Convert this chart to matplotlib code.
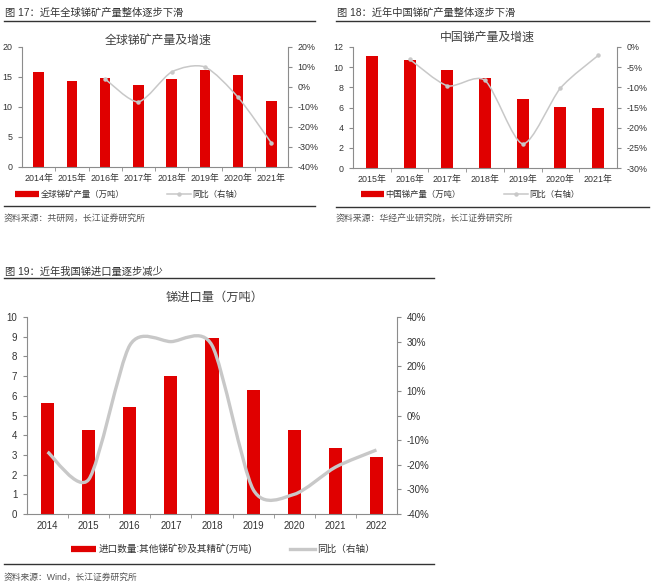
import matplotlib.pyplot as plt
from matplotlib.lines import Line2D
from matplotlib.patches import PathPatch
from matplotlib.path import Path
from matplotlib.ticker import FuncFormatter, MultipleLocator

plt.rcParams["font.family"] = ["Liberation Sans", "Noto Sans CJK SC", "DejaVu Sans"]

W, H = 660, 587
RED = "#E00000"
GRAY_LINE = "#C8C8C8"
AXIS_GRAY = "#8C8C8C"
TEXT = "#333333"
SMOOTH = 0.13  # bezier handle length, a bit tighter than plain Catmull-Rom

# figure 17: global antimony mine output
GLOBAL_YEARS = ["2014年", "2015年", "2016年", "2017年", "2018年", "2019年", "2020年", "2021年"]
GLOBAL_OUTPUT = [15.8, 14.3, 14.8, 13.7, 14.7, 16.2, 15.3, 11.0]
GLOBAL_YOY = [None, None, 4.0, -7.4, 7.5, 10.0, -5.2, -28.0]

# figure 18: China antimony output
CHINA_YEARS = ["2015年", "2016年", "2017年", "2018年", "2019年", "2020年", "2021年"]
CHINA_OUTPUT = [11.1, 10.74, 9.75, 8.93, 6.8, 6.08, 5.95]
CHINA_YOY = [None, -3.0, -9.6, -8.3, -24.0, -10.2, -2.1]

# figure 19: antimony ore imports
IMPORT_YEARS = ["2014", "2015", "2016", "2017", "2018", "2019", "2020", "2021", "2022"]
IMPORT_QTY = [5.65, 4.27, 5.41, 7.03, 8.95, 6.27, 4.28, 3.37, 2.9]
IMPORT_YOY = [-14.8, -26.0, 28.5, 30.0, 28.5, -30.0, -32.0, -21.0, -14.0]


def px_axes(fig, x0, y0, x1, y1):
    return fig.add_axes([x0 / W, 1 - y1 / H, (x1 - x0) / W, (y1 - y0) / H])


def fig_text(fig, x, y, s, **kw):
    fig.text(x / W, 1 - y / H, s, va="center", **kw)


def fig_hline(fig, x0, x1, y, lw=1.0, color="#333333"):
    fig.add_artist(Line2D([x0 / W, x1 / W], [1 - y / H, 1 - y / H],
                          transform=fig.transFigure, color=color, lw=lw))


def smooth_path(xs, ys):
    # Catmull-Rom style bezier, like Excel's smoothed line
    pts = list(zip(xs, ys))
    verts = [pts[0]]
    codes = [Path.MOVETO]
    for i in range(len(pts) - 1):
        p0 = pts[max(i - 1, 0)]
        p1 = pts[i]
        p2 = pts[i + 1]
        p3 = pts[min(i + 2, len(pts) - 1)]
        c1 = (p1[0] + (p2[0] - p0[0]) * SMOOTH, p1[1] + (p2[1] - p0[1]) * SMOOTH)
        c2 = (p2[0] - (p3[0] - p1[0]) * SMOOTH, p2[1] - (p3[1] - p1[1]) * SMOOTH)
        verts += [c1, c2, p2]
        codes += [Path.CURVE4] * 3
    return Path(verts, codes)


def draw_panel(fig, box, labels, values, yoy, ylim, ystep, y2lim, y2step,
               tick_size, line_width, markers):
    ax = px_axes(fig, *box)
    xs = list(range(len(labels)))
    ax.bar(xs, values, width=0.32, color=RED, zorder=2)
    ax.set_xlim(-0.5, len(labels) - 0.5)
    ax.set_ylim(*ylim)
    ax.yaxis.set_major_locator(MultipleLocator(ystep))
    ax.set_xticks(xs, labels)
    ax.set_xticks([x + 0.5 for x in xs[:-1]], minor=True)
    ax.tick_params(axis="x", which="major", length=0, labelsize=tick_size,
                   colors=TEXT, pad=5)
    ax.tick_params(axis="x", which="minor", length=3, color=AXIS_GRAY)
    ax.tick_params(axis="y", length=3, color=AXIS_GRAY, labelsize=tick_size,
                   labelcolor=TEXT, pad=4)
    for side in ("top", "right"):
        ax.spines[side].set_visible(False)
    for side in ("left", "bottom"):
        ax.spines[side].set_color(AXIS_GRAY)
        ax.spines[side].set_linewidth(0.8)

    ax2 = ax.twinx()
    ax2.set_ylim(*y2lim)
    ax2.yaxis.set_major_locator(MultipleLocator(y2step))
    ax2.yaxis.set_major_formatter(FuncFormatter(lambda v, _: f"{v:.0f}%"))
    ax2.tick_params(axis="y", length=3, color=AXIS_GRAY, labelsize=tick_size,
                    labelcolor=TEXT, pad=4)
    for side in ("top", "left", "bottom"):
        ax2.spines[side].set_visible(False)
    ax2.spines["right"].set_color(AXIS_GRAY)
    ax2.spines["right"].set_linewidth(0.8)

    lx = [x for x, v in zip(xs, yoy) if v is not None]
    ly = [v for v in yoy if v is not None]
    ax2.add_patch(PathPatch(smooth_path(lx, ly), facecolor="none",
                            edgecolor=GRAY_LINE, lw=line_width, zorder=3))
    if markers:
        ax2.plot(lx, ly, "o", ms=2.2, color=GRAY_LINE, zorder=4)
    return ax, ax2


fig = plt.figure(figsize=(W / 100, H / 100), dpi=100)
fig.patch.set_facecolor("white")

# ---- figure 17 ----
fig_text(fig, 5, 13, "图 17：近年全球锑矿产量整体逐步下滑", fontsize=7.4, color=TEXT)
fig_hline(fig, 4, 315, 21)
fig_text(fig, 158, 41, "全球锑矿产量及增速", fontsize=8.6, color="#404040", ha="center")
draw_panel(fig, (22, 47, 288, 167), GLOBAL_YEARS, GLOBAL_OUTPUT, GLOBAL_YOY,
           (0, 20), 5, (-40, 20), 10, 6.4, 1.1, True)
handles = [Line2D([], [], color=RED, lw=4.5, solid_capstyle="butt"),
           Line2D([], [], color=GRAY_LINE, lw=1.1, marker="o", ms=2.2)]
fig.legend(handles, ["全球锑矿产量（万吨）", "同比（右轴）"], loc="center",
           bbox_to_anchor=(129 / W, 1 - 195 / H), ncol=2, frameon=False,
           fontsize=6.0, handlelength=2.8, handletextpad=0.2, columnspacing=5.2,
           labelcolor=TEXT)
fig_hline(fig, 4, 315, 206)
fig_text(fig, 4, 219, "资料来源：共研网，长江证券研究所", fontsize=6.4, color="#555555")

# ---- figure 18 ----
fig_text(fig, 337, 13, "图 18：近年中国锑矿产量整体逐步下滑", fontsize=7.4, color=TEXT)
fig_hline(fig, 336, 649, 21)
fig_text(fig, 487, 38, "中国锑产量及增速", fontsize=8.6, color="#404040", ha="center")
draw_panel(fig, (353, 47, 617, 168), CHINA_YEARS, CHINA_OUTPUT, CHINA_YOY,
           (0, 12), 2, (-30, 0), 5, 6.4, 1.1, True)
fig.legend(handles, ["中国锑产量（万吨）", "同比（右轴）"], loc="center",
           bbox_to_anchor=(470 / W, 1 - 195 / H), ncol=2, frameon=False,
           fontsize=6.0, handlelength=2.8, handletextpad=0.2, columnspacing=5.2,
           labelcolor=TEXT)
fig_hline(fig, 336, 649, 207)
fig_text(fig, 336, 219, "资料来源：华经产业研究院，长江证券研究所", fontsize=6.4, color="#555555")

# ---- figure 19 ----
fig_text(fig, 5, 272, "图 19：近年我国锑进口量逐步减少", fontsize=7.4, color=TEXT)
fig_hline(fig, 4, 434, 278)
fig_text(fig, 215, 298, "锑进口量（万吨）", fontsize=8.8, color="#404040", ha="center")
draw_panel(fig, (27, 317, 397, 514), IMPORT_YEARS, IMPORT_QTY, IMPORT_YOY,
           (0, 10), 1, (-40, 40), 10, 7.0, 2.4, False)
handles19 = [Line2D([], [], color=RED, lw=4.5, solid_capstyle="butt"),
             Line2D([], [], color=GRAY_LINE, lw=2.4)]
fig.legend(handles19, ["进口数量:其他锑矿砂及其精矿(万吨)", "同比（右轴）"], loc="center",
           bbox_to_anchor=(223 / W, 1 - 549 / H), ncol=2, frameon=False,
           fontsize=6.9, handlelength=2.6, handletextpad=0.2, columnspacing=4.0,
           labelcolor=TEXT)
fig_hline(fig, 4, 434, 564)
fig_text(fig, 4, 577, "资料来源：Wind，长江证券研究所", fontsize=6.3, color="#555555")

fig.savefig("out.png", dpi=100)
